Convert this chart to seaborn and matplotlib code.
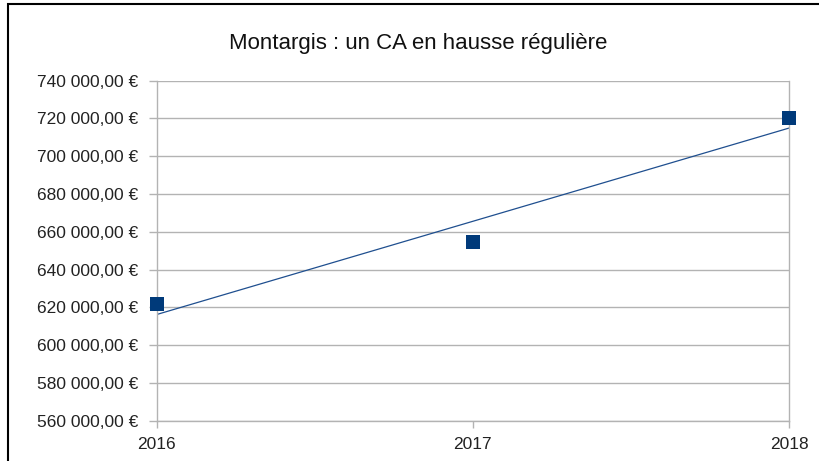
import matplotlib
matplotlib.use("Agg")
import matplotlib.pyplot as plt
import matplotlib.ticker as mticker
from matplotlib.patches import Rectangle
import pandas as pd
import seaborn as sns

# CA de Montargis par annee
annees = [2016, 2017, 2018]
ca = [621600, 654800, 720300]

titre = "Montargis : un CA en hausse régulière"

df = pd.DataFrame({"Annee": annees, "CA": ca})

sns.set_style("white")
plt.rcParams["font.family"] = ["Liberation Sans", "DejaVu Sans"]

bleu = "#003a7a"
gris = "#b3b3b3"

fig = plt.figure(figsize=(8.2, 4.61), dpi=100)
ax = fig.add_axes([156.7 / 820, 1 - 420.7 / 461, (789 - 156.7) / 820, (420.7 - 80.7) / 461])

sns.regplot(data=df, x="Annee", y="CA", ax=ax, ci=None, truncate=True,
            marker="s", color=bleu,
            scatter_kws=dict(s=110, linewidths=0, zorder=3, alpha=1, clip_on=False),
            line_kws=dict(lw=0.9, zorder=2, color="#1f4f8f"))

ax.set_xlim(2016, 2018)
ax.set_ylim(560000, 740000)
ax.set_xticks(annees)
ax.set_yticks(range(560000, 740001, 20000))

def euro(v, pos):
    s = f"{v:,.2f}".replace(",", " ").replace(".", ",")
    return s + " €"

ax.yaxis.set_major_formatter(mticker.FuncFormatter(euro))
ax.set_xlabel("")
ax.set_ylabel("")

ax.grid(axis="y", color=gris, lw=1)
ax.grid(axis="x", visible=False)
for sp in ax.spines.values():
    sp.set_color(gris)
    sp.set_linewidth(1)
ax.spines["top"].set_visible(False)

ax.tick_params(axis="y", direction="out", length=6, width=1, color=gris, pad=7,
               labelsize=12.5, labelcolor="#222222", left=True)
ax.tick_params(axis="x", direction="out", length=5, width=1, color=gris, pad=7,
               labelsize=12.5, labelcolor="#222222", bottom=True)

fig.text(418.5 / 820, 1 - 43 / 461, titre, ha="center", va="center",
         fontsize=16, color="#111111")

# cadre autour du graphique
fig.add_artist(Rectangle((8 / 820, -0.1), 2, 1 - 4.5 / 461 + 0.1, fill=False,
                         edgecolor="black", lw=1.5, transform=fig.transFigure))

fig.savefig("out.png", dpi=100)
